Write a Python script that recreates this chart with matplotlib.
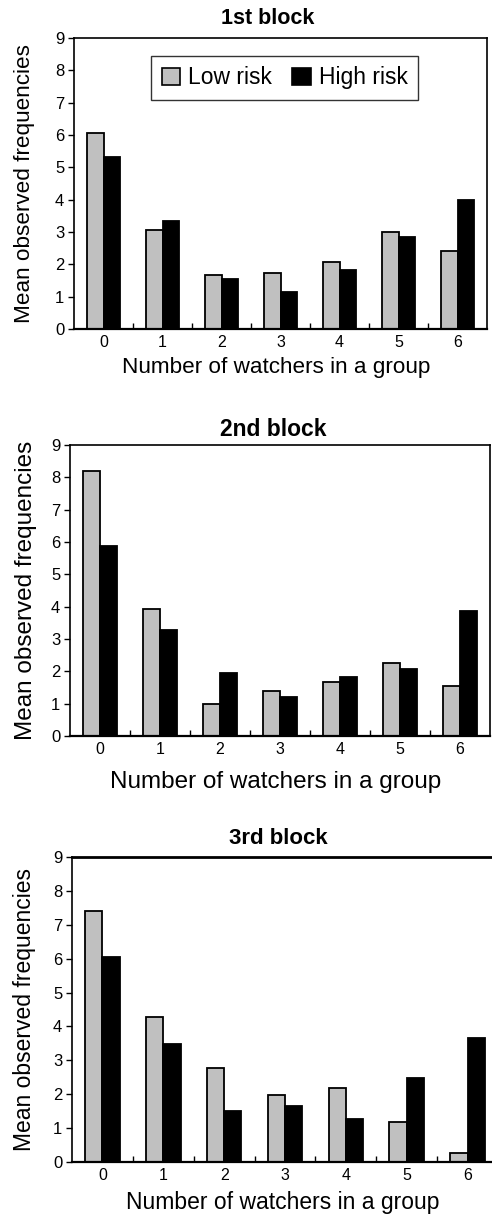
import matplotlib
matplotlib.use("Agg")
import matplotlib.pyplot as plt
from matplotlib.patches import Patch
import numpy as np

plt.rcParams['font.family'] = ['Liberation Sans', 'DejaVu Sans']

categories = [0, 1, 2, 3, 4, 5, 6]
titles = ["1st block", "2nd block", "3rd block"]
low_risk = [
    [6.05, 3.06, 1.68, 1.73, 2.07, 3.00, 2.42],
    [8.19, 3.92, 1.00, 1.39, 1.67, 2.26, 1.54],
    [7.41, 4.27, 2.77, 1.97, 2.18, 1.17, 0.28],
]
high_risk = [
    [5.33, 3.35, 1.54, 1.15, 1.83, 2.86, 3.99],
    [5.87, 3.28, 1.95, 1.21, 1.81, 2.08, 3.87],
    [6.06, 3.49, 1.50, 1.66, 1.28, 2.47, 3.67],
]
series_names = ["Low risk", "High risk"]
yticks = list(range(10))

W, H = 492, 1220
fig = plt.figure(figsize=(W / 100, H / 100), dpi=100)

# axes boxes in pixels: left, right, top, bottom
boxes = [(74, 487, 38, 329), (70, 490, 445, 736), (72, 498, 857, 1162)]
title_pos = [(268, 18), (273, 429), (278, 838)]
xlabel_pos = [(276, 368), (276, 782), (283, 1202)]
ylabel_x = [25, 26, 25]
label_fs = [16.2, 17.5, 16.5]
title_fs = [15.5, 16.5, 16]

bw = 0.285
x = np.arange(len(categories))
for i in range(3):
    l, r, t, b = boxes[i]
    ax = fig.add_axes([l / W, 1 - b / H, (r - l) / W, (b - t) / H])
    ax.bar(x - bw / 2, low_risk[i], width=bw, color='#c0c0c0', edgecolor='black', linewidth=1.3, zorder=2)
    ax.bar(x + bw / 2, high_risk[i], width=bw, color='black', edgecolor='black', linewidth=1.3, zorder=2)
    ax.set_xlim(-0.5, 6.5)
    ax.set_ylim(0, 9)
    ax.set_yticks(yticks)
    ax.set_xticks(x)
    ax.set_xticklabels([str(c) for c in categories], fontsize=11.5)
    ax.tick_params(axis='x', which='major', length=0, pad=4)
    ax.set_xticks(np.arange(0.5, 6.5, 1.0), minor=True)
    ax.tick_params(axis='x', which='minor', direction='in', length=4, width=1)
    ax.tick_params(axis='y', direction='out', length=4, width=1, labelsize=12, pad=3)
    for s in ax.spines.values():
        s.set_linewidth(1.2)
    ax.spines['bottom'].set_linewidth(1.6)
    if i == 2:
        ax.spines['top'].set_linewidth(2.0)
    fig.text(title_pos[i][0] / W, 1 - title_pos[i][1] / H, titles[i], ha='center', va='center',
             fontsize=title_fs[i], fontweight='bold')
    fig.text(xlabel_pos[i][0] / W, 1 - xlabel_pos[i][1] / H, "Number of watchers in a group",
             ha='center', va='center', fontsize=label_fs[i])
    fig.text(ylabel_x[i] / W, 1 - ((t + b) / 2) / H, "Mean observed frequencies",
             ha='center', va='center', rotation=90, fontsize=label_fs[i])
    if i == 0:
        handles = [Patch(facecolor='#c0c0c0', edgecolor='black', linewidth=1.2),
                   Patch(facecolor='black', edgecolor='black', linewidth=1.2)]
        leg = ax.legend(handles, series_names, loc='upper center', bbox_to_anchor=(0.51, 0.938),
                        ncol=2, fontsize=16.5, frameon=True, fancybox=False, edgecolor='black',
                        handlelength=0.8, handleheight=0.8, handletextpad=0.35, columnspacing=0.9,
                        borderpad=0.45, borderaxespad=0)
        leg.get_frame().set_linewidth(1.0)

fig.savefig("out.png", dpi=100)
